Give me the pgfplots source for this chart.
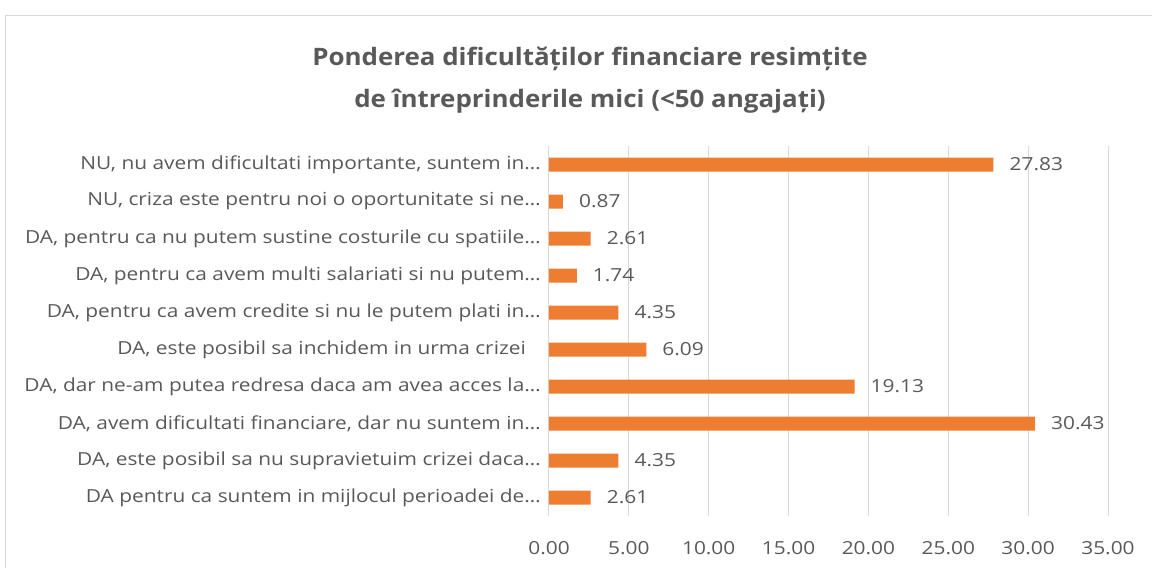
\documentclass[border=0pt]{standalone}
\usepackage{pgfplots}
\pgfplotsset{compat=1.18}
\usepackage{fontspec}
\setmainfont{Open Sans}[FakeStretch=1.16]
\newfontfamily\titlefont{Open Sans}[FakeStretch=1.08]
\definecolor{barorange}{HTML}{ED7D31}
\definecolor{txtgray}{HTML}{595959}
\definecolor{gridgray}{HTML}{D9D9D9}
\begin{document}
\begin{tikzpicture}[x=1pt,y=1pt]
\useasboundingbox (0,0) rectangle (1152,568);
\draw[gridgray, line width=1.2pt] (5.5,0) -- (5.5,552.5) -- (1152,552.5);
\node[font=\titlefont\bfseries\fontsize{24}{42}\selectfont, text=txtgray, align=center] at (590,488)
  {Ponderea dificultăților financiare resimțite\\de întreprinderile mici (<50 angajați)};
\begin{axis}[
  at={(549pt,52pt)}, anchor=south west,
  scale only axis, width=559pt, height=370pt,
  xbar, bar width=14pt,
  xmin=0, xmax=35, xtick={0,5,10,15,20,25,30,35},
  ymin=-0.5, ymax=9.5, ytick={0,1,2,3,4,5,6,7,8,9},
  yticklabels={
    {DA pentru ca suntem in mijlocul perioadei de…},
    {DA, este posibil sa nu supravietuim crizei daca…},
    {DA, avem dificultati financiare, dar nu suntem in…},
    {DA, dar ne-am putea redresa daca am avea acces la…},
    {DA, este posibil sa inchidem in urma crizei\hspace*{15pt}},
    {DA, pentru ca avem credite si nu le putem plati in…},
    {DA, pentru ca avem multi salariati si nu putem…},
    {DA, pentru ca nu putem sustine costurile cu spatiile…},
    {NU, criza este pentru noi o oportunitate si ne…},
    {NU, nu avem dificultati importante, suntem in…}},
  axis line style={draw=none},
  major tick length=0pt,
  xmajorgrids, grid style={gridgray, line width=1pt},
  /pgf/number format/fixed, /pgf/number format/fixed zerofill, /pgf/number format/precision=2,
  /pgf/number format/assume math mode=true,
  xticklabel style={font=\fontsize{18}{21}\selectfont, text=txtgray, anchor=center, yshift=-32pt},
  yticklabel style={font=\fontsize{18}{21}\selectfont, text=txtgray, anchor=east, inner sep=0pt, xshift=-8pt},
  nodes near coords,
  nodes near coords style={font=\fontsize{18}{21}\selectfont, text=txtgray, anchor=west, inner sep=0pt, xshift=16pt},
]
\addplot[fill=barorange, draw=none] coordinates {
  (2.61,0) (4.35,1) (30.43,2) (19.13,3) (6.09,4) (4.35,5) (1.74,6) (2.61,7) (0.87,8) (27.83,9)};
\end{axis}
\end{tikzpicture}
\end{document}
